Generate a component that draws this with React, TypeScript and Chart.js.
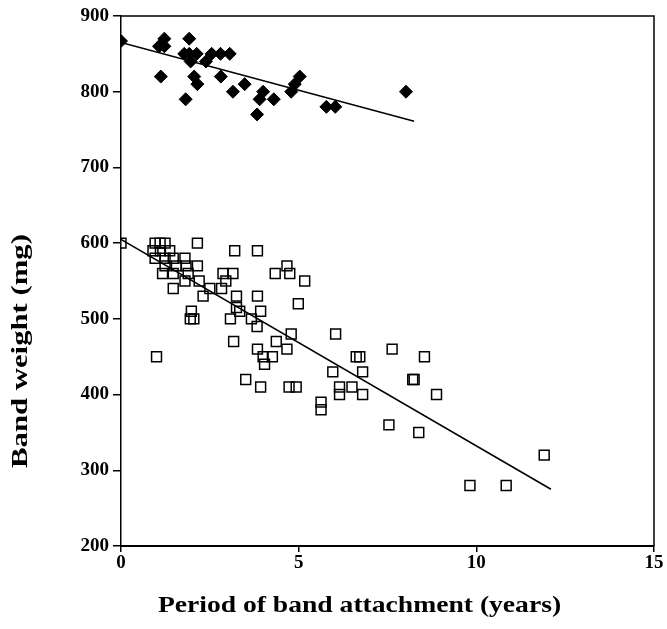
import React, { useEffect, useRef } from "react";
import { Chart, registerables } from "chart.js";

Chart.register(...registerables);

// Filled diamonds (upper group)
const diamondYears = [0, 1.07, 1.22, 1.22, 1.12, 1.82, 1.78, 1.92, 1.92, 2.13, 1.96, 2.06, 2.15, 2.39, 2.55, 2.8, 3.06, 2.81, 3.15, 3.48, 3.83, 3.9, 4.0, 4.3, 4.79, 4.89, 5.03, 5.78, 6.03, 8.02];
const diamondWeights = [867, 860, 870, 860, 820, 790, 850, 850, 870, 850, 840, 820, 810, 840, 850, 850, 850, 820, 800, 810, 770, 790, 800, 790, 800, 810, 820, 780, 780, 800];

// Open squares (lower group)
const squareYears = [
  0, 0.96, 1.1, 1.24, 0.9, 1.11, 1.37, 2.15, 3.2, 3.84,
  0.96, 1.24, 1.47, 1.8, 1.24, 1.56, 1.83, 2.15, 1.17, 1.47,
  1.89, 2.87, 3.15, 1.8, 2.2, 2.95, 1.47, 2.5, 2.83, 2.31,
  3.25, 3.84, 4.34, 4.67, 4.75, 5.17, 1.98, 1.95, 2.05, 3.25,
  3.34, 3.08, 3.67, 3.93, 3.83, 4.99, 3.17, 4.37, 4.79, 6.04,
  1.0, 3.84, 4.0, 4.26, 4.04, 4.67, 3.51, 3.93, 4.73, 4.93,
  5.63, 5.63, 5.96, 6.8, 6.62, 6.72, 7.63, 8.54, 8.21, 8.25,
  6.15, 6.5, 6.15, 6.8, 8.88, 7.54, 8.38, 11.91, 9.82, 10.84
];
const squareWeights = [
  600, 600, 600, 600, 590, 590, 590, 600, 590, 590,
  580, 580, 580, 580, 570, 570, 570, 570, 560, 560,
  560, 560, 560, 550, 550, 550, 540, 540, 540, 530,
  530, 530, 560, 570, 560, 550, 510, 500, 500, 515,
  510, 500, 500, 510, 490, 520, 470, 470, 480, 480,
  450, 460, 450, 450, 440, 460, 420, 410, 410, 410,
  390, 380, 430, 430, 450, 450, 460, 450, 420, 420,
  410, 410, 400, 400, 400, 360, 350, 320, 280, 280
];

// Regression lines (end points)
const diamondFitYears = [0, 8.25];
const diamondFitWeights = [865, 761];
const squareFitYears = [0, 12.1];
const squareFitWeights = [605, 275];

const xTicks = [0, 5, 10, 15];
const yTicks = [200, 300, 400, 500, 600, 700, 800, 900];

const xTitle = "Period of band attachment (years)";
const yTitle = "Band weight (mg)";

const FONT = "'Liberation Serif', 'Times New Roman', serif";

const toPoints = (xs: number[], ys: number[]) => xs.map((x, i) => ({ x, y: ys[i] }));

const frame = {
  id: "frame",
  afterDatasetsDraw(chart: any) {
    const { ctx, chartArea } = chart;
    ctx.save();
    ctx.strokeStyle = "#000";
    ctx.lineWidth = 1.5;
    ctx.beginPath();
    ctx.moveTo(chartArea.left, chartArea.top);
    ctx.lineTo(chartArea.right, chartArea.top);
    ctx.lineTo(chartArea.right, chartArea.bottom);
    ctx.stroke();
    ctx.restore();
  },
};

const axisTitles = {
  id: "axisTitles",
  afterDraw(chart: any) {
    const { ctx, chartArea } = chart;
    ctx.save();
    ctx.fillStyle = "#000";
    ctx.font = `bold 24px ${FONT}`;
    ctx.textAlign = "center";
    ctx.textBaseline = "middle";
    ctx.save();
    ctx.translate((chartArea.left + chartArea.right) / 2 - 28, chart.height - 23);
    ctx.scale(1.15, 1);
    ctx.fillText(xTitle, 0, 0);
    ctx.restore();
    ctx.save();
    ctx.translate(21, (chartArea.top + chartArea.bottom) / 2 + 70);
    ctx.rotate(-Math.PI / 2);
    ctx.scale(1.28, 1);
    ctx.fillText(yTitle, 0, 0);
    ctx.restore();
    ctx.restore();
  },
};

export default function App() {
  const ref = useRef<HTMLCanvasElement | null>(null);

  useEffect(() => {
    if (!ref.current) return;
    const chart = new Chart(ref.current, {
      type: "scatter",
      data: {
        datasets: [
          {
            label: "Fit (diamonds)",
            data: toPoints(diamondFitYears, diamondFitWeights),
            showLine: true,
            pointRadius: 0,
            borderColor: "#000",
            borderWidth: 1.6,
          },
          {
            label: "Fit (squares)",
            data: toPoints(squareFitYears, squareFitWeights),
            showLine: true,
            pointRadius: 0,
            borderColor: "#000",
            borderWidth: 1.6,
          },
          {
            label: "Diamonds",
            data: toPoints(diamondYears, diamondWeights),
            pointStyle: "rectRot",
            pointRadius: 6.5,
            backgroundColor: "#000",
            borderColor: "#000",
            borderWidth: 1,
          },
          {
            label: "Squares",
            data: toPoints(squareYears, squareWeights),
            pointStyle: "rect",
            pointRadius: 7,
            backgroundColor: "rgba(0,0,0,0)",
            borderColor: "#000",
            borderWidth: 1.5,
          },
        ],
      },
      options: {
        responsive: false,
        animation: false,
        layout: { padding: { top: 16, right: 13, left: 0, bottom: 0 } },
        plugins: {
          legend: { display: false },
          tooltip: { enabled: false },
        },
        scales: {
          x: {
            type: "linear",
            min: 0,
            max: 15,
            afterBuildTicks: (s: any) => {
              s.ticks = xTicks.map((v) => ({ value: v }));
            },
            afterFit: (s: any) => {
              s.height = 83;
            },
            ticks: {
              color: "#000",
              font: { family: FONT, size: 19, weight: "bold" },
              padding: 0,
              maxRotation: 0,
            },
            grid: {
              drawOnChartArea: false,
              drawTicks: true,
              tickLength: 6,
              color: "#000",
              lineWidth: 1.5,
            },
            border: { color: "#000", width: 2 },
            title: { display: false, text: xTitle },
          },
          y: {
            type: "linear",
            min: 200,
            max: 900,
            afterBuildTicks: (s: any) => {
              s.ticks = yTicks.map((v) => ({ value: v }));
            },
            afterFit: (s: any) => {
              s.width = 121;
            },
            ticks: {
              color: "#000",
              font: { family: FONT, size: 19, weight: "bold" },
              padding: 4,
            },
            grid: {
              drawOnChartArea: false,
              drawTicks: true,
              tickLength: 8,
              color: "#000",
              lineWidth: 1.5,
            },
            border: { color: "#000", width: 1.5 },
            title: { display: false, text: yTitle },
          },
        },
      },
      plugins: [frame, axisTitles],
    });
    return () => chart.destroy();
  }, []);

  return (
    <div style={{ position: "absolute", left: 0, top: 0, width: 667, height: 629, background: "#fff" }}>
      <canvas ref={ref} width={667} height={629} style={{ display: "block" }} />
    </div>
  );
}
